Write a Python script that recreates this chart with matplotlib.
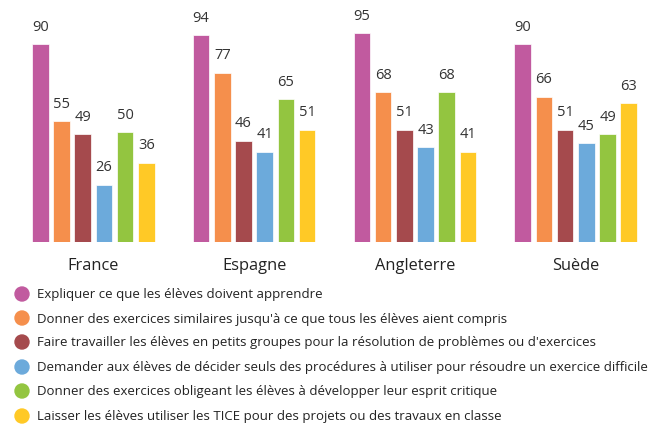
import matplotlib
matplotlib.use("Agg")
import matplotlib.pyplot as plt
from matplotlib.patches import Ellipse

countries = ["France", "Espagne", "Angleterre", "Suède"]
series_labels = [
    "Expliquer ce que les élèves doivent apprendre",
    "Donner des exercices similaires jusqu'à ce que tous les élèves aient compris",
    "Faire travailler les élèves en petits groupes pour la résolution de problèmes ou d'exercices",
    "Demander aux élèves de décider seuls des procédures à utiliser pour résoudre un exercice difficile",
    "Donner des exercices obligeant les élèves à développer leur esprit critique",
    "Laisser les élèves utiliser les TICE pour des projets ou des travaux en classe",
]
values = [
    [90, 94, 95, 90],
    [55, 77, 68, 66],
    [49, 46, 51, 51],
    [26, 41, 43, 45],
    [50, 65, 68, 49],
    [36, 51, 41, 63],
]
colors = ["#C15A9F", "#F58F4C", "#A54A4D", "#6CAADB", "#93C540", "#FFC926"]

W, H = 657, 427
fig = plt.figure(figsize=(W / 100, H / 100), dpi=100)
plt.rcParams['font.family'] = ['Open Sans', 'DejaVu Sans']

base_px = 243
ax = fig.add_axes([0, (H - base_px) / H, 1, base_px / H])
px_per_unit_y = 2.2
ax.set_ylim(0, base_px / px_per_unit_y)

group_step = 7.58
bw = 0.78
ppu = 21.21
ax.set_xlim(-bw / 2 - 32 / ppu, 3 * group_step + 5 + bw / 2 + 20 / ppu)

for j, (vals, c) in enumerate(zip(values, colors)):
    xs = [g * group_step + j for g in range(len(countries))]
    ax.bar(xs, vals, width=bw, color=c, edgecolor="white", linewidth=0.5)
    for x, v in zip(xs, vals):
        ax.annotate(str(v), (x, v), xytext=(0, 7.5), textcoords="offset points",
                    ha="center", va="bottom", fontsize=10.5, color="#333333")

ax.axis("off")

for g, name in enumerate(countries):
    xc = g * group_step + 2.5
    ax.annotate(name, (xc, 0), xytext=(0, -23 / 1.389), textcoords="offset points",
                ha="center", va="center", fontsize=11.8, color="#222222",
                annotation_clip=False)

rows_y = [295, 319, 343, 368, 392, 417]
for lbl, c, y in zip(series_labels, colors, rows_y):
    fig.patches.append(Ellipse((22 / W, 1 - y / H), 14 / W, 14 / H,
                               transform=fig.transFigure, color=c, figure=fig))
    fig.text(37 / W, 1 - y / H, lbl, ha="left", va="center", fontsize=9.55,
             color="#222222")

fig.savefig("out.png", dpi=100)
